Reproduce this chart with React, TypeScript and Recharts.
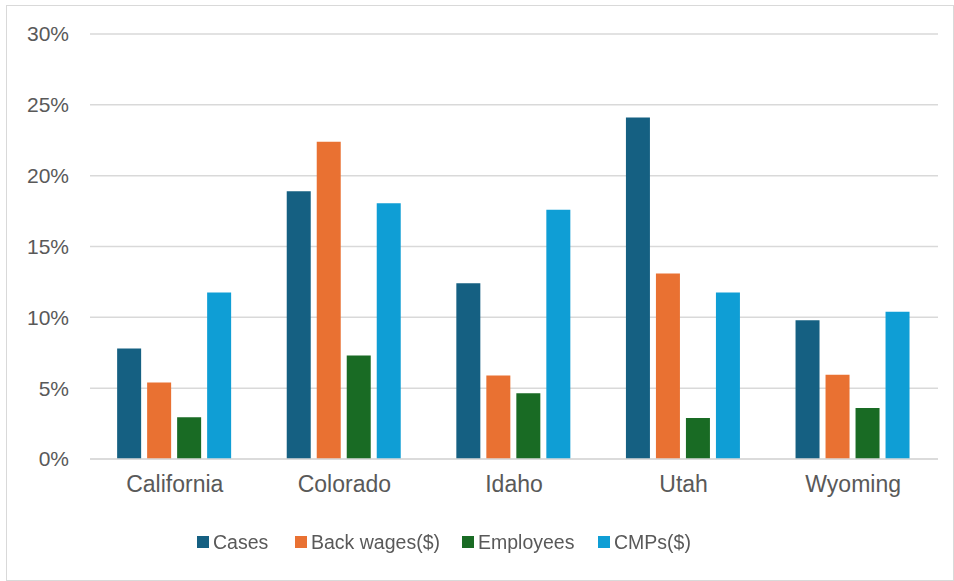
import { BarChart, Bar, XAxis, YAxis, CartesianGrid, Legend } from 'recharts';

const states = ['California', 'Colorado', 'Idaho', 'Utah', 'Wyoming'];
const cases = [7.8, 18.9, 12.4, 24.1, 9.8];
const backWages = [5.4, 22.4, 5.9, 13.1, 5.95];
const employees = [2.95, 7.3, 4.65, 2.9, 3.6];
const cmps = [11.75, 18.05, 17.6, 11.75, 10.4];
const yTicks = [0, 5, 10, 15, 20, 25, 30];

const series = [
  { key: 'cases', name: 'Cases', color: '#156082' },
  { key: 'backWages', name: 'Back wages($)', color: '#E97132' },
  { key: 'employees', name: 'Employees', color: '#196B24' },
  { key: 'cmps', name: 'CMPs($)', color: '#0F9ED5' },
];

const data = states.map((state, i) => ({
  state,
  cases: cases[i],
  backWages: backWages[i],
  employees: employees[i],
  cmps: cmps[i],
}));

const FONT = '"Liberation Sans", Arial, sans-serif';
const TEXT = '#595959';
// legend item widths, to match the spacing of the original
const itemWidths = [98, 167, 136, 100];

function LegendRow() {
  return (
    <div style={{ display: 'flex', alignItems: 'center', paddingLeft: 197, fontFamily: FONT, fontSize: 19.5, color: TEXT, lineHeight: '28px' }}>
      {series.map((s, i) => (
        <div key={s.key} style={{ display: 'flex', alignItems: 'center', width: itemWidths[i] }}>
          <span style={{ width: 12, height: 12, background: s.color, display: 'inline-block', marginRight: 4 }} />
          <span>{s.name}</span>
        </div>
      ))}
    </div>
  );
}

export default function App() {
  return (
    <div style={{ position: 'fixed', left: 0, top: 0, width: 954, height: 581, background: '#fff' }}>
      <div style={{ position: 'absolute', left: 6, top: 5, width: 946, height: 574, border: '1px solid #d9d9d9' }} />
      <div style={{ position: 'absolute', left: 0, top: 0 }}>
        <BarChart
          width={954}
          height={581}
          data={data}
          margin={{ top: 34, right: 16, bottom: 10, left: 0 }}
          barCategoryGap="16%"
          barGap={6}
        >
          <CartesianGrid vertical={false} stroke="#d9d9d9" strokeWidth={1.5} />
          <XAxis
            dataKey="state"
            axisLine={{ stroke: '#d9d9d9', strokeWidth: 1.5 }}
            tickLine={false}
            tickSize={0}
            tickMargin={17}
            height={50}
            tick={{ fill: TEXT, fontSize: 23, fontFamily: FONT }}
          />
          <YAxis
            width={90}
            domain={[0, 30]}
            ticks={yTicks}
            tickFormatter={(v) => `${v}%`}
            axisLine={false}
            tickLine={false}
            tickSize={0}
            tickMargin={21}
            tick={{ fill: TEXT, fontSize: 21, fontFamily: FONT }}
          />
          <Legend
            height={62}
            content={() => <LegendRow />}
            wrapperStyle={{ top: 528, left: 0, width: 954 }}
          />
          {series.map((s) => (
            <Bar key={s.key} dataKey={s.key} name={s.name} fill={s.color} isAnimationActive={false} />
          ))}
        </BarChart>
      </div>
    </div>
  );
}
